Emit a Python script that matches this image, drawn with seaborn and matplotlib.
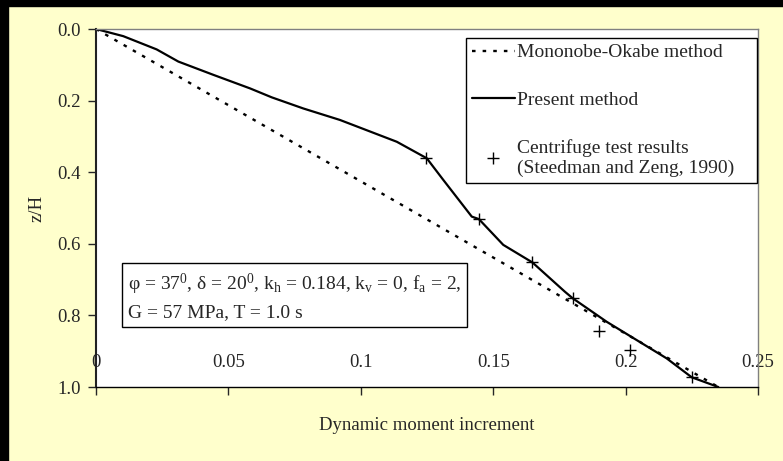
import pandas as pd
import matplotlib.pyplot as plt
import seaborn as sns
from matplotlib.lines import Line2D

# Values (z/H vs dynamic moment increment)
mo_depth = [0.0, 0.2, 0.4, 0.6, 0.8, 1.0]
mo_moment = [0.0, 0.047, 0.094, 0.141, 0.188, 0.235]

present_depth = [0.0, 0.020, 0.057, 0.091, 0.128, 0.166, 0.191, 0.222, 0.254, 0.315, 0.361,
                 0.422, 0.524, 0.531, 0.603, 0.652, 0.734, 0.752, 0.818, 0.869, 0.920, 0.973, 1.0]
present_moment = [0.0, 0.0103, 0.0229, 0.0311, 0.0443, 0.0582, 0.0664, 0.0783, 0.0921, 0.1136, 0.1249,
                  0.1312, 0.1419, 0.1446, 0.1538, 0.1648, 0.1771, 0.180, 0.1929, 0.2042, 0.2155, 0.225, 0.235]

test_depth = [0.361, 0.531, 0.652, 0.752, 0.843, 0.897, 0.973]
test_moment = [0.1248, 0.1446, 0.1648, 0.180, 0.190, 0.2017, 0.225]

x_ticks = [0, 0.05, 0.1, 0.15, 0.2, 0.25]
x_tick_labels = ['0', '0.05', '0.1', '0.15', '0.2', '0.25']
y_ticks = [0.0, 0.2, 0.4, 0.6, 0.8, 1.0]
y_tick_labels = ['0.0', '0.2', '0.4', '0.6', '0.8', '1.0']

df_mo = pd.DataFrame({'moment': mo_moment, 'depth': mo_depth})
df_present = pd.DataFrame({'moment': present_moment, 'depth': present_depth})
df_test = pd.DataFrame({'moment': test_moment, 'depth': test_depth})

sns.set_style("white")
plt.rcParams['font.family'] = ['Liberation Serif', 'DejaVu Serif']
plt.rcParams['mathtext.default'] = 'regular'
fs = 13.5
fs_box = 14

fig = plt.figure(figsize=(7.83, 4.61), dpi=100, facecolor='#FFFFCC')
ax = fig.add_axes([96 / 783, 74 / 461, 662 / 783, 358 / 461])
ax.set_facecolor('white')

# black strips from the slide behind the chart
fig.patches.append(plt.Rectangle((0, 0), 8 / 783, 1, transform=fig.transFigure, color='black', zorder=-1))
fig.patches.append(plt.Rectangle((0, 1 - 6 / 461), 1, 6 / 461, transform=fig.transFigure, color='black', zorder=-1))

sns.lineplot(ax=ax, data=df_mo, x='moment', y='depth', sort=False, estimator=None,
             color='black', linewidth=1.7)
ax.lines[-1].set_dashes((1.5, 3.0))
sns.lineplot(ax=ax, data=df_present, x='moment', y='depth', sort=False, estimator=None,
             color='black', linewidth=1.6)
sns.scatterplot(ax=ax, data=df_test, x='moment', y='depth', marker='+', s=80,
                color='black', linewidth=1.0, zorder=5)

ax.set_xlim(0, 0.25)
ax.set_ylim(1.0, 0.0)
ax.set_xticks(x_ticks)
ax.set_xticklabels(x_tick_labels)
ax.set_yticks(y_ticks)
ax.set_yticklabels(y_tick_labels)
ax.tick_params(axis='x', direction='out', length=6, width=1, bottom=True, pad=-29.5, labelsize=fs)
ax.tick_params(axis='y', direction='out', length=6, width=1, left=True, pad=5, labelsize=fs)

for side in ['top', 'right']:
    ax.spines[side].set_color('#808080')
    ax.spines[side].set_linewidth(1)
ax.spines['left'].set_color('#222222')
ax.spines['left'].set_linewidth(1.5)
ax.spines['bottom'].set_color('black')
ax.spines['bottom'].set_linewidth(1)

ax.set_xlabel('Dynamic moment increment', fontsize=fs)
ax.set_ylabel('z/H', fontsize=fs)
ax.xaxis.set_label_coords(0.5, -0.085)
ax.yaxis.set_label_coords(-0.077, 0.5)

handles = [Line2D([], [], color='black', linewidth=1.7, dashes=(1.5, 3.0)),
           Line2D([], [], color='black', linewidth=1.6),
           Line2D([], [], color='black', marker='+', linestyle='none', markersize=8, markeredgewidth=1)]
labels = ['Mononobe-Okabe method', 'Present method',
          'Centrifuge test results\n(Steedman and Zeng, 1990)']
leg = ax.legend(handles, labels, loc='upper left', bbox_to_anchor=(0.559, 0.592, 0.4396, 0.383),
                mode='expand', borderaxespad=0,
                fontsize=fs_box, frameon=True, fancybox=False, edgecolor='black', framealpha=1,
                labelspacing=1.55, handlelength=2.2, handletextpad=0.1, borderpad=0.3)
leg.get_frame().set_linewidth(1)

ax.text(0.048, 0.253,
        'φ = 37$^{0}$, δ = 20$^{0}$, k$_{h}$ = 0.184, k$_{v}$ = 0, f$_{a}$ = 2,\nG = 57 MPa, T = 1.0 s',
        transform=ax.transAxes, ha='left', va='center', fontsize=fs_box, linespacing=1.5,
        bbox=dict(boxstyle='square,pad=0.3', facecolor='white', edgecolor='black', linewidth=1))

plt.savefig('out.png', dpi=100, facecolor=fig.get_facecolor())
